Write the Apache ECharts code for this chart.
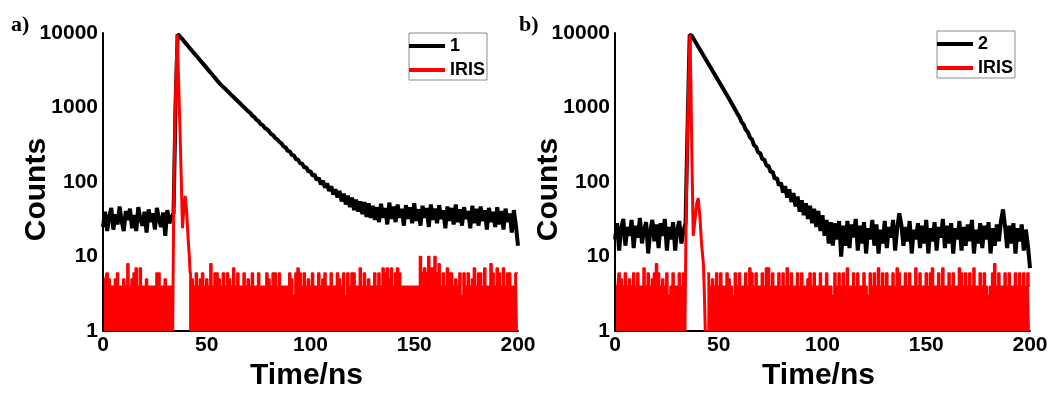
<!DOCTYPE html>
<html>
<head>
<meta charset="utf-8">
<script src="https://cdn.jsdelivr.net/npm/echarts@6/dist/echarts.min.js"></script>
<style>
  html, body { margin: 0; padding: 0; background: #fff; }
  #chart { width: 1052px; height: 396px; }
</style>
</head>
<body>
<div id="chart"></div>
<script>
// Fluorescence decay traces (counts per 1 ns channel, t = 0..200 ns)
const decay1 = [
  25,40,22,34,45,23,37,27,47,30,
  22,41,31,44,24,36,22,46,32,26,
  40,21,43,29,38,23,45,31,25,39,
  19,42,28,34,38,1200,9600,9060,8400,7780,
  7210,6690,6200,5740,5330,4940,4580,4250,3940,3650,
  3380,3130,2900,2690,2500,2310,2140,2000,1880,1770,
  1660,1560,1460,1375,1290,1215,1140,1070,1005,944,
  887,845,775,742,683,655,600,580,530,512,
  480,440,425,390,372,345,330,300,292,262,
  258,230,228,202,200,178,176,156,158,138,
  140,122,126,106,114,93,104,84,96,76,
  88,68,80,62,76,55,70,50,66,46,
  62,42,58,40,55,37,54,34,52,33,
  48,31,46,29,51,33,45,27,53,32,
  47,29,50,33,44,26,49,32,46,28,
  52,30,43,26,48,33,45,25,50,31,
  44,28,49,32,42,24,47,30,45,27,
  50,29,43,26,46,32,41,24,48,28,
  44,26,47,30,42,23,45,29,40,25,
  46,27,41,23,44,29,38,21,42,26,
  14
];
const decay2 = [
  17,28,12,24,32,14,25,19,31,13,
  26,18,33,15,23,29,11,22,31,16,
  27,13,28,19,32,12,25,17,29,12,
  23,30,15,22,28,600,9500,9190,8240,7400,
  6640,5960,5350,4800,4310,3860,3470,3110,2790,2510,
  2250,2020,1810,1630,1460,1310,1170,1040,927,824,
  745,640,592,505,470,398,374,312,296,250,
  243,204,200,166,165,136,138,110,114,90,
  98,72,88,62,80,54,71,47,64,40,
  57,36,52,32,48,28,44,25,41,22,
  36,19,31,15,29,14,28,17,30,10,
  26,14,30,13,27,18,32,12,26,15,
  29,11,24,17,31,14,27,11,23,15,
  30,13,25,18,31,12,24,38,27,14,
  25,16,30,11,23,17,28,13,26,15,
  31,11,24,16,29,12,25,18,32,13,
  26,15,28,11,24,17,30,12,25,14,
  27,16,31,11,23,15,28,13,26,17,
  29,11,24,14,27,16,30,43,25,13,
  26,15,28,11,24,16,27,12,23,14,
  7
];

// Instrument response (IRIS) baseline, 1 ns channels; the pulse itself is listed separately
const irisBase1 = [
  5,5,6,5,4,4,5,6,4,4,
  5,4,8,4,5,6,7,4,7,4,
  4,5,4,4,4,4,6,6,4,4,
  5,4,4,4,null,null,null,null,null,null,
  null,null,6,5,4,6,4,5,6,4,
  5,4,8,4,6,6,5,4,6,4,
  6,5,4,7,4,6,4,4,6,4,
  5,4,6,4,4,6,4,4,4,6,
  5,4,6,6,4,6,4,4,4,4,
  6,5,3,6,7,6,4,6,4,5,
  4,6,4,4,6,4,5,6,4,4,
  6,4,4,6,5,4,6,3,6,4,
  6,6,4,4,7,4,6,4,5,4,
  4,6,4,6,4,7,6,7,5,7,
  4,6,7,6,4,4,4,4,4,4,
  4,4,4,10,6,7,6,10,7,7,
  10,6,8,4,6,4,7,6,6,4,
  5,4,6,3,6,4,6,4,5,7,
  4,6,6,4,7,4,4,8,6,4,
  7,6,4,7,4,6,6,4,4,6,
  6
];
const irisBase2 = [
  4,4,6,5,4,6,4,5,4,6,
  4,6,4,4,7,4,6,4,5,6,
  8,6,4,5,4,6,3,4,6,4,
  4,6,4,6,null,null,null,null,null,null,
  null,null,null,null,null,6,4,5,4,6,
  4,6,4,4,6,5,4,3,6,4,
  6,4,4,6,4,7,6,4,6,4,
  4,6,4,7,7,4,6,4,4,6,
  4,6,4,7,4,6,4,4,6,4,
  6,4,4,5,6,4,6,4,4,6,
  4,4,6,4,4,3,6,4,6,4,
  6,4,7,4,4,6,4,6,4,4,
  6,4,3,6,4,6,4,7,4,6,
  4,6,4,4,6,4,7,6,4,4,
  6,4,6,4,4,7,4,6,4,4,
  6,4,6,7,4,4,6,4,7,4,
  4,6,4,6,4,4,7,6,4,6,
  4,6,4,7,4,4,6,4,6,4,
  3,4,6,8,4,6,4,4,6,4,
  6,4,4,6,4,6,4,6,4,6,
  4
];

// IRIS pulse around the excitation (time in ns, counts)
const irisPulseTime1  = [33.6, 34.1, 34.8, 35.7, 36.4, 37.1, 37.6, 38.3, 39.0, 39.6, 40.3, 41.0, 41.6, 42.0];
const irisPulseCount1 = [1,    60,   900,  9500, 2500, 500,  150,  24,   45,   65,   40,   18,   10,   6];
const irisPulseTime2  = [33.7, 34.3, 35.0, 36.1, 36.6, 37.0, 37.7, 38.5, 39.3, 40.1, 40.9, 41.7, 42.6, 43.1, 43.5];
const irisPulseCount2 = [1,    40,   600,  9500, 2000, 270,  19,   30,   50,   61,   35,   15,   8,    3,    1];

const xTicks = { min: 0, max: 200, interval: 50 };
const yTicks = { min: 1, max: 10000 };
const panelTags = ['a)', 'b)'];
const sampleNames = ['1', '2'];

const FONT = 'Liberation Sans, Arial, sans-serif';

const perChannel = arr => arr.map((v, i) => [i, v]);
const zip = (t, c) => t.map((v, i) => [v, c[i]]);

const gridLefts = [103, 615];

function xAxisFor(i) {
  return {
    gridIndex: i, type: 'value', min: xTicks.min, max: xTicks.max, interval: xTicks.interval,
    z: 0,
    axisLine: { lineStyle: { color: '#000', width: 2 } },
    axisTick: { show: false },
    splitLine: { show: false },
    axisLabel: { color: '#000', fontSize: 21, fontWeight: 'bold', fontFamily: FONT, margin: 4 },
    name: 'Time/ns', nameLocation: 'middle', nameGap: 17,
    nameTextStyle: { color: '#000', fontSize: 30, fontWeight: 'bold', fontFamily: FONT, padding: [0, 8, 0, 0] }
  };
}
function yAxisFor(i) {
  return {
    gridIndex: i, type: 'log', logBase: 10, min: yTicks.min, max: yTicks.max,
    z: 5,
    axisLine: { show: true, lineStyle: { color: '#000', width: 2 } },
    axisTick: { show: false },
    splitLine: { show: false },
    axisLabel: { color: '#000', fontSize: 21, fontWeight: 'bold', fontFamily: FONT, margin: 5,
      formatter: v => String(Math.round(v)) },
    name: 'Counts', nameLocation: 'middle', nameGap: 51, nameMoveOverlap: false,
    nameTextStyle: { color: '#000', fontSize: 30, fontWeight: 'bold', fontFamily: FONT, padding: [0, 15, 0, 0] }
  };
}

const decays = [decay1, decay2];
const bases = [irisBase1, irisBase2];
const pulses = [zip(irisPulseTime1, irisPulseCount1), zip(irisPulseTime2, irisPulseCount2)];

const series = [];
[0, 1].forEach(i => {
  series.push({
    name: sampleNames[i], type: 'line', xAxisIndex: i, yAxisIndex: i,
    data: perChannel(decays[i]), symbol: 'none', showSymbol: false,
    lineStyle: { color: '#000', width: 4 }, itemStyle: { color: '#000' }, z: 2
  });
  series.push({
    name: 'IRIS', type: 'line', xAxisIndex: i, yAxisIndex: i,
    data: perChannel(bases[i]), symbol: 'none', showSymbol: false, step: 'middle',
    lineStyle: { color: '#ff0000', width: 1.5 }, itemStyle: { color: '#ff0000' },
    areaStyle: { color: '#ff0000', opacity: 1, origin: 'start' }, z: 3
  });
  series.push({
    name: 'IRIS', type: 'line', xAxisIndex: i, yAxisIndex: i,
    data: pulses[i], symbol: 'none', showSymbol: false,
    lineStyle: { color: '#ff0000', width: 3 }, itemStyle: { color: '#ff0000' }, z: 3
  });
});

function legendFor(i, left, top) {
  return {
    data: [sampleNames[i], 'IRIS'], orient: 'vertical', left: left, top: top,
    icon: 'rect', itemWidth: 36, itemHeight: 4, itemGap: 6,
    padding: [4, 2, 1, 0], borderColor: '#8c8c8c', borderWidth: 1,
    textStyle: { color: '#000', fontSize: 18, fontWeight: 'bold', fontFamily: FONT }
  };
}

const option = {
  animation: false,
  backgroundColor: '#fff',
  title: panelTags.map((t, i) => ({
    text: t, left: [11, 519][i], top: 14, padding: 0,
    textStyle: { color: '#000', fontSize: 22, fontWeight: 'bold', fontFamily: 'Liberation Serif, Times New Roman, serif' }
  })),
  grid: gridLefts.map(l => ({ left: l, top: 33, width: 415, height: 305 })),
  xAxis: [xAxisFor(0), xAxisFor(1)],
  yAxis: [yAxisFor(0), yAxisFor(1)],
  legend: [legendFor(0, 409, 33), legendFor(1, 937, 31)],
  series: series
};

const chart = echarts.init(document.getElementById('chart'));
chart.setOption(option);
</script>
</body>
</html>
